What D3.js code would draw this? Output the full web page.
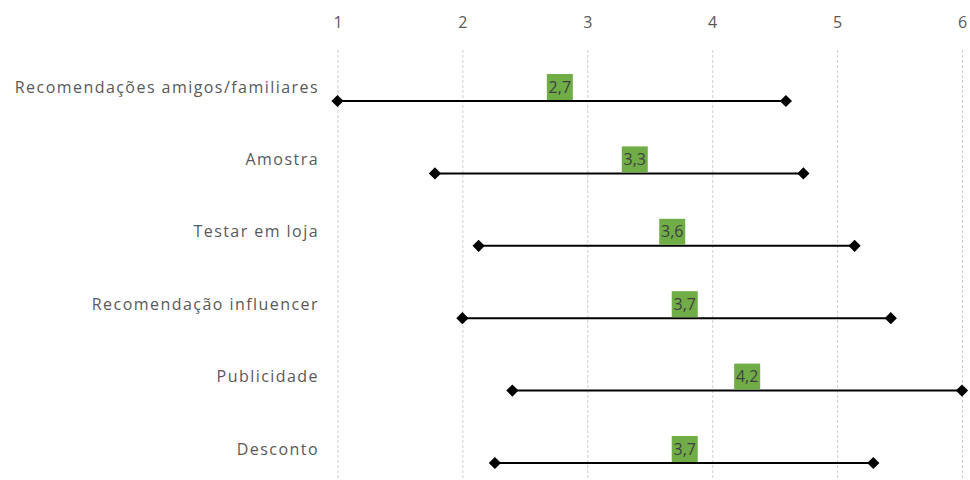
<!DOCTYPE html>
<html>
<head>
<meta charset="utf-8">
<script src="https://cdn.jsdelivr.net/npm/d3@7"></script>
<style>
  html, body { margin: 0; padding: 0; background: #ffffff; }
  svg { display: block; }
  text { font-family: "Open Sans", "Noto Sans", sans-serif; }
</style>
</head>
<body>
<svg id="chart" width="970" height="480"></svg>
<script>
// Range of scores (min – max) per purchase influence, with the average score
const categories = [
  "Recomendações amigos/familiares",
  "Amostra",
  "Testar em loja",
  "Recomendação influencer",
  "Publicidade",
  "Desconto"
];
const minValues  = [1.0, 1.78, 2.13, 2.0, 2.4, 2.26];
const maxValues  = [4.59, 4.73, 5.14, 5.43, 6.0, 5.29];
const meanValues = [2.7, 3.3, 3.6, 3.7, 4.2, 3.7];
const tickValues = [1, 2, 3, 4, 5, 6];

const svg = d3.select("#chart");

const x = d3.scaleLinear().domain([1, 6]).range([337.5, 962]);
const y = d3.scalePoint().domain(categories).range([101, 463]);

// Vertical dashed gridlines with value labels on top
const xAxis = d3.axisTop(x)
  .tickValues(tickValues)
  .tickSize(-430)
  .tickPadding(0)
  .tickFormat(d3.format("d"));

const gx = svg.append("g")
  .attr("transform", "translate(0,50)")
  .call(xAxis);
gx.select(".domain").remove();
gx.selectAll(".tick line")
  .attr("stroke", "#cfcfcf")
  .attr("stroke-width", 1)
  .attr("stroke-dasharray", "3,2");
gx.selectAll(".tick text")
  .attr("y", -28)
  .attr("dy", "0.35em")
  .attr("fill", "#595959")
  .style("font-size", "16px");

// Category labels, right-aligned, sitting just above each range line
svg.append("g")
  .selectAll("text")
  .data(categories)
  .join("text")
  .attr("x", 319)
  .attr("y", d => y(d) - 14)
  .attr("dy", "0.35em")
  .attr("text-anchor", "end")
  .attr("fill", "#595959")
  .style("font-size", "16px")
  .style("letter-spacing", "1.45px")
  .text(d => d);

const rows = categories.map((c, i) => ({
  cat: c, lo: minValues[i], hi: maxValues[i], mean: meanValues[i]
}));

// Range lines
svg.append("g")
  .selectAll("line")
  .data(rows)
  .join("line")
  .attr("x1", d => x(d.lo))
  .attr("x2", d => x(d.hi))
  .attr("y1", d => y(d.cat))
  .attr("y2", d => y(d.cat))
  .attr("stroke", "#000")
  .attr("stroke-width", 2);

// Diamond markers at both ends
const diamond = d3.symbol().type(d3.symbolDiamond2).size(95);
const ends = rows.flatMap(d => [{cat: d.cat, v: d.lo}, {cat: d.cat, v: d.hi}]);
svg.append("g")
  .selectAll("path")
  .data(ends)
  .join("path")
  .attr("d", diamond)
  .attr("transform", d => `translate(${x(d.v)},${y(d.cat)})`)
  .attr("fill", "#000");

// Average score labels on green boxes above the line
const fmt = v => d3.format(".1f")(v).replace(".", ",");
const boxW = 26, boxH = 26, boxShift = 10;
const lbl = svg.append("g")
  .selectAll("g")
  .data(rows)
  .join("g")
  .attr("transform", d => `translate(${x(d.mean) + boxShift},${y(d.cat)})`);
lbl.append("rect")
  .attr("x", -boxW / 2)
  .attr("y", -boxH - 1)
  .attr("width", boxW)
  .attr("height", boxH)
  .attr("fill", "#70AD47");
lbl.append("text")
  .attr("x", 0)
  .attr("y", -boxH / 2 - 1)
  .attr("dy", "0.35em")
  .attr("text-anchor", "middle")
  .attr("fill", "#404040")
  .style("font-size", "16px")
  .text(d => fmt(d.mean));
</script>
</body>
</html>
